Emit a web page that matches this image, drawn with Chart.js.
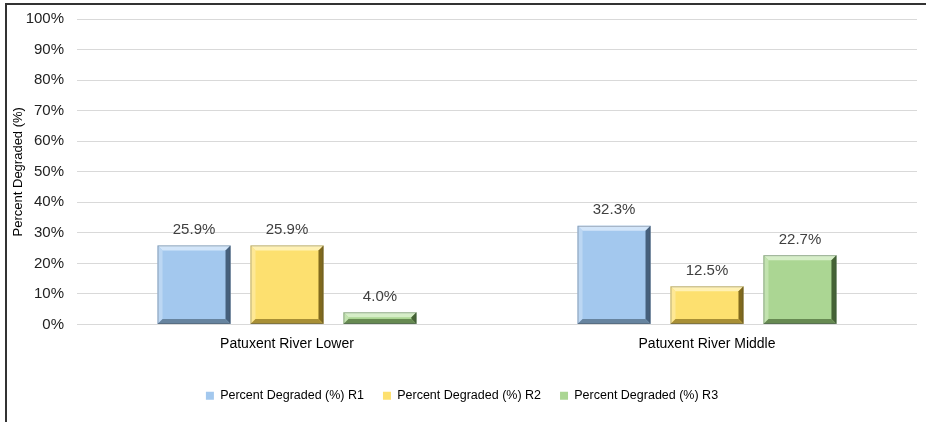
<!DOCTYPE html>
<html>
<head>
<meta charset="utf-8">
<script src="https://cdn.jsdelivr.net/npm/chart.js@4.4.1/dist/chart.umd.min.js"></script>
<style>
  html, body { margin: 0; padding: 0; background: #fff; }
  #wrap { width: 926px; height: 422px; position: relative; }
</style>
</head>
<body>
<div id="wrap"><canvas id="c" width="926" height="422"></canvas></div>
<script>
// Sites and the three rounds of degradation percentages
const categories = ['Patuxent River Lower', 'Patuxent River Middle'];
const seriesNames = ['Percent Degraded (%) R1', 'Percent Degraded (%) R2', 'Percent Degraded (%) R3'];
const r1Values = [25.9, 32.3];
const r2Values = [25.9, 12.5];
const r3Values = [4.0, 22.7];
const yTicks = [0, 10, 20, 30, 40, 50, 60, 70, 80, 90, 100];

// Fill plus bevel shades (light top/left, dark right/bottom)
const palettes = [
  { fill: '#a3c8ee', top: '#d2e5f9', left: '#bcd7f3', right: '#46607c', bottom: '#67849f' },
  { fill: '#fde06f', top: '#fff1b4', left: '#fee895', right: '#80691d', bottom: '#a88f35' },
  { fill: '#abd693', top: '#d6eec8', left: '#c2e3af', right: '#456335', bottom: '#678a52' }
];

const frame = {
  id: 'frame',
  afterDraw(chart) {
    const ctx = chart.ctx;
    ctx.save();
    ctx.strokeStyle = '#333';
    ctx.lineWidth = 2;
    ctx.beginPath();
    ctx.moveTo(6, 422);
    ctx.lineTo(6, 4);
    ctx.lineTo(926, 4);
    ctx.stroke();
    ctx.restore();
  }
};

const bevel = {
  id: 'bevel',
  afterDatasetsDraw(chart) {
    const ctx = chart.ctx;
    ctx.save();
    chart.data.datasets.forEach((ds, di) => {
      const pal = palettes[di];
      chart.getDatasetMeta(di).data.forEach((bar, i) => {
        const { x, y, base, width } = bar.getProps(['x', 'y', 'base', 'width'], true);
        const l = x - width / 2, r = x + width / 2, t = y, b = base;
        const s = Math.min(5, (b - t) / 2);
        const poly = (pts, col) => {
          ctx.fillStyle = col;
          ctx.beginPath();
          ctx.moveTo(pts[0][0], pts[0][1]);
          for (let k = 1; k < pts.length; k++) ctx.lineTo(pts[k][0], pts[k][1]);
          ctx.closePath();
          ctx.fill();
        };
        poly([[l, t], [r, t], [r - s, t + s], [l + s, t + s]], pal.top);
        poly([[l, t], [l + s, t + s], [l + s, b - s], [l, b]], pal.left);
        poly([[r, t], [r, b], [r - s, b - s], [r - s, t + s]], pal.right);
        poly([[l, b], [l + s, b - s], [r - s, b - s], [r, b]], pal.bottom);
        ctx.strokeStyle = 'rgba(60,70,80,0.35)';
        ctx.lineWidth = 1;
        ctx.strokeRect(l + 0.5, t + 0.5, width - 1, b - t - 1);

        // value label above the bar
        const v = ds.data[i];
        ctx.fillStyle = '#404040';
        ctx.font = '15px "Liberation Sans", Arial, sans-serif';
        ctx.textAlign = 'center';
        ctx.textBaseline = 'bottom';
        ctx.fillText(v.toFixed(1) + '%', x, t - 8);
      });
    });
    ctx.restore();
  }
};

const valueSets = [r1Values, r2Values, r3Values];

new Chart(document.getElementById('c'), {
  type: 'bar',
  data: {
    labels: categories,
    datasets: seriesNames.map((name, i) => ({
      label: name,
      data: valueSets[i],
      backgroundColor: palettes[i].fill,
      borderWidth: 0,
      categoryPercentage: 0.664,
      barPercentage: 0.785
    }))
  },
  options: {
    responsive: false,
    animation: false,
    layout: { padding: { left: 7, right: 9, top: 19, bottom: 10 } },
    plugins: {
      tooltip: { enabled: false },
      legend: {
        position: 'bottom',
        labels: {
          boxWidth: 8,
          boxHeight: 8,
          padding: 19,
          color: '#000',
          font: { family: '"Liberation Sans", Arial, sans-serif', size: 12.5 }
        }
      }
    },
    scales: {
      x: {
        grid: { display: false, drawTicks: false },
        border: { display: false },
        ticks: {
          color: '#000',
          padding: 11,
          font: { family: '"Liberation Sans", Arial, sans-serif', size: 14 }
        },
        afterFit(scale) { scale.height = 46; }
      },
      y: {
        min: 0,
        max: 100,
        afterBuildTicks(scale) { scale.ticks = yTicks.map(v => ({ value: v })); },
        grid: { color: '#d9d9d9', drawTicks: false },
        border: { display: false },
        ticks: {
          color: '#222',
          padding: 13,
          font: { family: '"Liberation Sans", Arial, sans-serif', size: 15 },
          callback: v => v + '%'
        },
        title: {
          display: true,
          text: 'Percent Degraded (%)',
          color: '#000',
          font: { family: '"Liberation Sans", Arial, sans-serif', size: 13 }
        },
        afterFit(scale) {
          scale.width = 70;
          scale.paddingTop = 0;
          scale.paddingBottom = 0;
        }
      }
    }
  },
  plugins: [bevel, frame]
});
</script>
</body>
</html>
